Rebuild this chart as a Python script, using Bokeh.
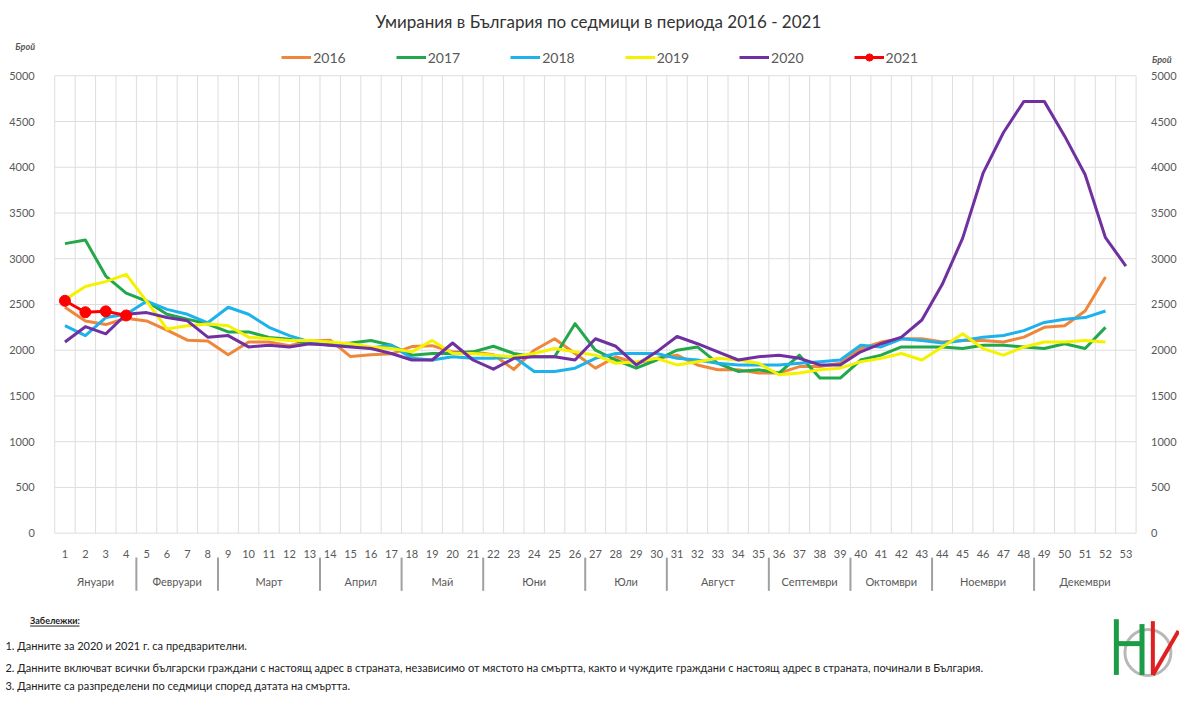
from bokeh.plotting import figure
from bokeh.models import Range1d, LinearAxis, FixedTicker, Legend, LegendItem
from bokeh.embed import file_html
from bokeh.resources import INLINE
from bokeh.core.properties import value

# ---------------- data ----------------
weeks = list(range(1, 54))
w16 = [2470, 2320, 2280, 2350, 2320, 2220, 2110, 2100, 1950, 2090, 2090, 2050, 2100,
       2110, 1930, 1950, 1960, 2040, 2050, 1980, 1980, 1950, 1790, 2000, 2125, 1964,
       1804, 1929, 1857, 1911, 1946, 1839, 1786, 1786, 1750, 1750, 1821, 1821, 1857,
       2018, 2089, 2125, 2125, 2089, 2107, 2107, 2089, 2143, 2250, 2268, 2429, 2800]
w17 = [3165, 3205, 2810, 2625, 2536, 2393, 2340, 2286, 2200, 2200, 2140, 2120, 2071,
       2060, 2080, 2107, 2054, 1946, 1964, 1964, 1982, 2043, 1964, 1929, 1929, 2290,
       2000, 1893, 1804, 1893, 2000, 2036, 1857, 1768, 1786, 1750, 1946, 1696, 1696,
       1893, 1946, 2036, 2036, 2036, 2018, 2054, 2054, 2036, 2018, 2071, 2018, 2250]
w18 = [2268, 2160, 2357, 2393, 2536, 2446, 2393, 2300, 2470, 2393, 2250, 2160, 2090,
       2054, 2043, 2025, 2054, 1911, 1893, 1929, 1911, 1911, 1929, 1768, 1768, 1804,
       1911, 1964, 1964, 1964, 1911, 1893, 1857, 1839, 1839, 1839, 1857, 1875, 1893,
       2054, 2036, 2125, 2107, 2079, 2107, 2143, 2161, 2214, 2304, 2339, 2357, 2429]
w19 = [2553, 2696, 2750, 2829, 2536, 2232, 2268, 2286, 2268, 2143, 2125, 2107, 2107,
       2089, 2071, 2036, 2018, 1982, 2107, 1964, 1964, 1946, 1929, 1964, 2018, 1982,
       1946, 1857, 1875, 1911, 1839, 1875, 1911, 1893, 1857, 1732, 1750, 1786, 1804,
       1875, 1911, 1964, 1893, 2036, 2179, 2018, 1946, 2036, 2089, 2089, 2107, 2089]
w20 = [2089, 2257, 2179, 2393, 2411, 2357, 2321, 2143, 2160, 2036, 2054, 2036, 2071,
       2054, 2036, 2018, 1964, 1893, 1893, 2079, 1893, 1793, 1911, 1929, 1929, 1893,
       2125, 2043, 1839, 1982, 2150, 2071, 1982, 1893, 1929, 1946, 1911, 1839, 1839,
       1982, 2071, 2143, 2330, 2720, 3225, 3935, 4380, 4720, 4720, 4340, 3920, 3230, 2920]
w21 = [2540, 2415, 2425, 2380]

series_names = ["2016", "2017", "2018", "2019", "2020", "2021"]
series_colors = ["#EF873A", "#22A84B", "#1DB2EC", "#F5F200", "#7030A0", "#FF0000"]

months = ["Януари", "Февруари", "Март", "Април", "Май", "Юни", "Юли", "Август",
          "Септември", "Октомври", "Ноември", "Декември"]
month_weeks = [4, 4, 5, 4, 4, 5, 4, 5, 4, 4, 5, 5]

y_ticks = list(range(0, 5001, 500))

title_text = "Умирания в България по седмици в периода 2016 - 2021"
axis_caption = "Брой"
notes_head = "Забележки:"
notes = [
    "1. Данните за 2020 и 2021 г. са предварителни.",
    "2. Данните включват всички български граждани с настоящ адрес в страната, независимо от мястото на смъртта, както и чуждите граждани с настоящ адрес в страната, починали в България.",
    "3. Данните са разпределени по седмици според датата на смъртта.",
]

# ---------------- layout helpers ----------------
W, H = 1179, 692
KX, KY = W / 1195.0, H / 708.0          # reference picture -> canvas
PLOT_L, PLOT_R, PLOT_T, PLOT_B = 55, 1151, 77, 545   # reference pixels of plotting area
X0, X1 = 0.5, 53.5
Y0, Y1 = 0, 5000
PX = (PLOT_R - PLOT_L) * KX / (X1 - X0)
PY = (PLOT_B - PLOT_T) * KY / (Y1 - Y0)

def dx(ref_x):
    return X0 + (ref_x - PLOT_L) * KX / PX

def dy(ref_y):
    return Y0 + (PLOT_B - ref_y) * KY / PY

FONT = "Lato"
GRID = "#DDDDDD"
TXT = "#595959"

p = figure(width=W, height=H, output_backend="svg", toolbar_location=None,
           x_range=Range1d(dx(0), dx(1195)), y_range=Range1d(dy(708), dy(0)),
           x_axis_type=None, y_axis_type=None,
           min_border_left=0, min_border_right=0, min_border_top=0, min_border_bottom=0)
p.outline_line_color = None
p.xgrid.visible = False
p.ygrid.visible = False
p.background_fill_color = "white"
p.border_fill_color = "white"

vx = [w + 0.5 for w in range(0, 54)]
p.segment(x0=vx, y0=[Y0] * len(vx), x1=vx, y1=[Y1] * len(vx), line_color=GRID, line_width=1)
p.segment(x0=[X0] * len(y_ticks), y0=y_ticks, x1=[X1] * len(y_ticks), y1=y_ticks,
          line_color=GRID, line_width=1)

def style_axis(ax, standoff, size="11px"):
    ax.axis_line_color = None
    ax.major_tick_line_color = None
    ax.minor_tick_line_color = None
    ax.major_label_text_font = FONT
    ax.major_label_text_font_size = size
    ax.major_label_text_color = TXT
    ax.major_label_standoff = standoff

ax_l = LinearAxis(ticker=FixedTicker(ticks=y_ticks), fixed_location=X0)
style_axis(ax_l, 14)
p.add_layout(ax_l, "left")
ax_r = LinearAxis(ticker=FixedTicker(ticks=y_ticks), fixed_location=X1)
style_axis(ax_r, 9)
p.add_layout(ax_r, "right")
ax_w = LinearAxis(ticker=FixedTicker(ticks=weeks), fixed_location=Y0)
style_axis(ax_w, 11)
p.add_layout(ax_w, "below")

centers, bounds = [], []
start = 1
for n in month_weeks:
    centers.append(start + (n - 1) / 2.0)
    end = start + n - 1
    if end < 53:
        bounds.append(end + 0.5)
    start = end + 1
ax_m = LinearAxis(ticker=FixedTicker(ticks=centers), fixed_location=dy(580),
                  major_label_overrides={c: m for c, m in zip(centers, months)})
style_axis(ax_m, 2)
p.add_layout(ax_m, "below")
p.segment(x0=bounds, y0=[dy(570)] * len(bounds), x1=bounds, y1=[dy(604)] * len(bounds),
          line_color="#A0A0A0", line_width=2)

data = [w16, w17, w18, w19, w20]
items = []
for vals, name, col in zip(data, series_names[:5], series_colors[:5]):
    r = p.line(weeks[:len(vals)], vals, line_color=col, line_width=3, line_join="round")
    items.append(LegendItem(label=name, renderers=[r]))
r21l = p.line(weeks[:len(w21)], w21, line_color=series_colors[5], line_width=3)
r21s = p.scatter(weeks[:len(w21)], w21, marker="circle", size=11,
                 fill_color=series_colors[5], line_color=series_colors[5])
items.append(LegendItem(label=series_names[5], renderers=[r21l, r21s]))

legend = Legend(items=items, orientation="horizontal",
                location=(285 * KX, H - 68 * KY),
                glyph_width=30, glyph_height=18, label_standoff=2, spacing=50,
                padding=0, margin=0, border_line_color=None, background_fill_alpha=0,
                label_text_font=FONT, label_text_font_size="14px", label_text_color=TXT)
p.add_layout(legend, "center")

p.text(x=[dx(606)], y=[dy(21)], text=[title_text], text_align="center",
       text_baseline="middle", text_font=value(FONT), text_font_size=value("17px"),
       text_color="#333333")
p.text(x=[dx(25), dx(1177)], y=[dy(47), dy(60)], text=[axis_caption, axis_caption],
       text_align="center", text_baseline="middle", text_font=value(FONT),
       text_font_size=value("9px"), text_font_style="bold italic", text_color=TXT)

p.text(x=[dx(30)], y=[dy(634)], text=[notes_head], text_align="left", text_baseline="middle",
       text_font=value(FONT), text_font_size=value("9px"), text_font_style="bold",
       text_color="#222222")
p.segment(x0=[dx(30)], y0=[dy(640)], x1=[dx(80)], y1=[dy(640)], line_color="#222222", line_width=1)
p.text(x=[dx(5)] * 3, y=[dy(660), dy(682), dy(701)], text=notes, text_align="left",
       text_baseline="middle", text_font=value(FONT), text_font_size=value("11px"),
       text_color="#222222")

# logo (decorative)
p.scatter(x=[dx(1163)], y=[dy(667)], marker="circle", size=46, fill_color=None,
          line_color="#B8B8B8", line_width=3)
p.segment(x0=[dx(1131), dx(1131), dx(1157)], y0=[dy(633), dy(658), dy(638)],
          x1=[dx(1131), dx(1157), dx(1157)], y1=[dy(690), dy(658), dy(690)],
          line_color="#1E9B45", line_width=5)
p.segment(x0=[dx(1168), dx(1168)], y0=[dy(635), dy(690)], x1=[dx(1168), dx(1194)],
          y1=[dy(690), dy(645)], line_color="#E02020", line_width=4)

open("out.html", "w").write(file_html(p, INLINE))
